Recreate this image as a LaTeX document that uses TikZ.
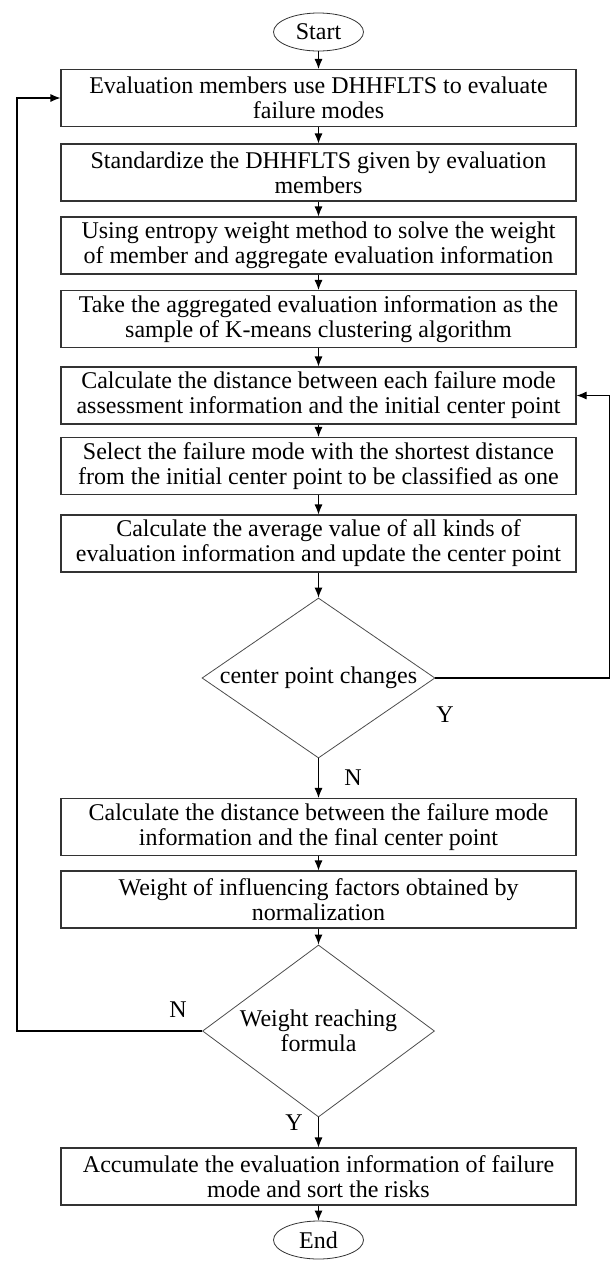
\documentclass[tikz,border=0pt]{standalone}
\usepackage{fontspec}
\setmainfont{Liberation Serif}
\usetikzlibrary{shapes.geometric,arrows.meta}

\begin{document}
\begin{tikzpicture}[x=1pt,y=1pt,>={Latex[length=10pt,width=8pt]},line width=1.1pt]
\tikzstyle{every node}=[font=\fontsize{24}{25}\selectfont,inner sep=0]
\tikzstyle{stepbox}=[rectangle,draw=black!80,minimum width=515,minimum height=57,align=center]
\tikzstyle{term}=[ellipse,draw=black!80,line width=0.8pt,minimum width=90,minimum height=38]
\tikzstyle{choice}=[diamond,draw=black!70,line width=0.8pt,align=center]
\useasboundingbox (0,0) rectangle (611,-1262);
\node[term] (start) at (318.5,-32) {Start};
\node[stepbox] (b1) at (318.5,-98) {Evaluation members use DHHFLTS to evaluate\\failure modes};
\node[stepbox] (b2) at (318.5,-172.5) {Standardize the DHHFLTS given by evaluation\\members};
\node[stepbox] (b3) at (318.5,-245.5) {Using entropy weight method to solve the weight\\of member and aggregate evaluation information};
\node[stepbox] (b4) at (318.5,-319) {Take the aggregated evaluation information as the\\sample of K-means clustering algorithm};
\node[stepbox] (b5) at (318.5,-395.5) {Calculate the distance between each failure mode\\assessment information and the initial center point};
\node[stepbox] (b6) at (318.5,-466) {Select the failure mode with the shortest distance\\from the initial center point to be classified as one};
\node[stepbox] (b7) at (318.5,-543.5) {Calculate the average value of all kinds of\\evaluation information and update the center point};
\node[choice,minimum width=233,minimum height=160] (d1) at (318.5,-678) {\makebox[0pt]{center point changes}};
\node[stepbox] (b8) at (318.5,-827) {Calculate the distance between the failure mode\\information and the final center point};
\node[stepbox] (b9) at (318.5,-899.5) {Weight of influencing factors obtained by\\normalization};
\node[choice,minimum width=232,minimum height=172] (d2) at (318.5,-1031) {\makebox[0pt]{Weight reaching}\\\makebox[0pt]{formula}};
\node[stepbox] (b10) at (318.5,-1176.5) {Accumulate the evaluation information of failure\\mode and sort the risks};
\node[term] (end) at (318.5,-1240) {End};
\node (y1) at (445,-715) {Y};
\node (n1) at (353,-778) {N};
\node (n2) at (178,-1010) {N};
\node (y2) at (294,-1123) {Y};
\coordinate (rp) at (609.5,-678);
\coordinate (lp) at (17,-1031);
\draw [->] (start) -- (b1);
\draw [->] (b1) -- (b2);
\draw [->] (b2) -- (b3);
\draw [->] (b3) -- (b4);
\draw [->] (b4) -- (b5);
\draw [->] (b5) -- (b6);
\draw [->] (b6) -- (b7);
\draw [->] (b7) -- (d1);
\draw [->] (d1) -- (b8);
\draw [->] (b8) -- (b9);
\draw [->] (b9) -- (d2);
\draw [->] (d2) -- (b10);
\draw [->] (b10) -- (end);
\draw [->] (d1.east) -- (rp) |- (b5.east);
\draw [->] (d2.west) -- (lp) |- (b1.west);
\end{tikzpicture}
\end{document}
